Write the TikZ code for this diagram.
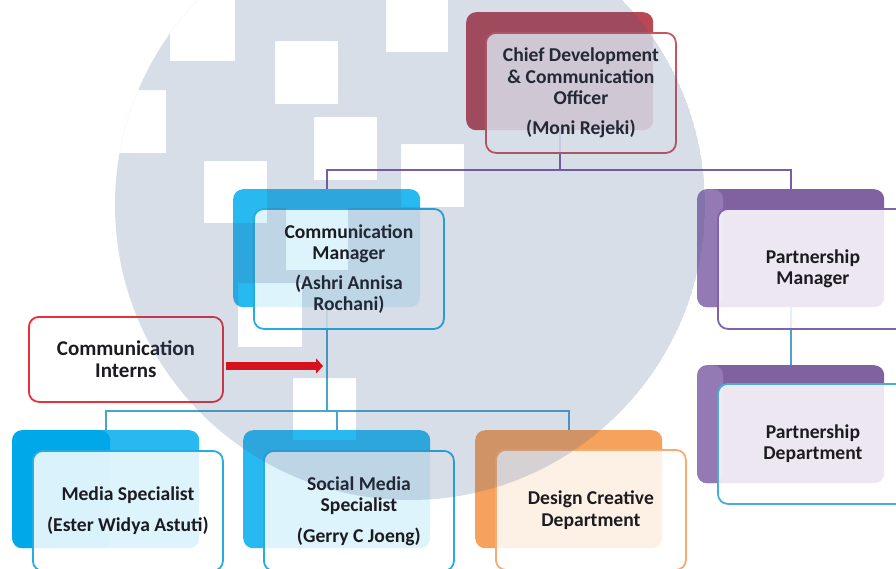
\documentclass[tikz,border=0pt]{standalone}
\usepackage{fontspec}
\setmainfont{Carlito}
\usetikzlibrary{arrows.meta}

\definecolor{chiefred}{RGB}{184,72,82}
\definecolor{chiefedge}{RGB}{198,86,96}
\definecolor{skyback}{RGB}{40,185,240}
\definecolor{skydeep}{RGB}{0,168,234}
\definecolor{skyedge}{RGB}{38,172,228}
\definecolor{plumback}{RGB}{128,98,160}
\definecolor{plumlight}{RGB}{148,122,180}
\definecolor{plumedge}{RGB}{128,100,170}
\definecolor{amberback}{RGB}{246,162,92}
\definecolor{amberedge}{RGB}{246,172,112}
\definecolor{tealline}{RGB}{72,165,205}
\definecolor{tealedge}{RGB}{72,172,212}
\definecolor{plumline}{RGB}{122,92,172}
\definecolor{internedge}{RGB}{232,48,58}
\definecolor{arrowred}{RGB}{214,18,28}
\definecolor{haze}{RGB}{60,90,140}
\definecolor{ink}{RGB}{28,28,32}

\begin{document}
\begin{tikzpicture}[x=1pt,y=-1pt,
  backbox/.style={rounded corners=10pt, fill=#1, draw=none,
    minimum width=187pt, minimum height=118pt, anchor=north west, inner sep=0pt},
  frontbox/.style={rounded corners=10pt, draw=#1, line width=1.8pt,
    fill=white, fill opacity=0.85, text opacity=1,
    minimum width=190pt, minimum height=120pt, anchor=north west, inner sep=0pt,
    text=ink, font=\bfseries\fontsize{19.6}{21.5}\selectfont, align=center},
  plumconn/.style={draw=plumline, line width=1.6pt},
  tealconn/.style={draw=tealline, line width=1.6pt},
  darkleft/.style={path picture={\fill[skydeep] (path picture bounding box.north west)
      rectangle ([xshift=98pt]path picture bounding box.south west);}},
  lightstrip/.style={path picture={\fill[plumlight] (path picture bounding box.north west)
      rectangle ([xshift=26pt]path picture bounding box.south west);}}
]
\useasboundingbox (0,0) rectangle (896,568);
\fill[white] (0,0) rectangle (896,568);

% back plates
\node[backbox=chiefred] (chiefB) at (466,12) {};
\node[backbox=skyback] (commB) at (233,189) {};
\node[backbox=plumback, lightstrip] (pmB) at (697,189) {};
\node[backbox=plumback, lightstrip] (pdB) at (697,365) {};
\node[backbox=skyback, darkleft] (mediaB) at (12,430) {};
\node[backbox=skyback] (socialB) at (243,430) {};
\node[backbox=amberback] (designB) at (475,430) {};

% connectors
\coordinate (topBus) at (0,170);
\coordinate (midBus) at (0,411);
\draw[plumconn] (chiefB.south) -- (chiefB.south |- topBus) -| (commB.north);
\draw[plumconn] (chiefB.south |- topBus) -| (pmB.north);
\draw[tealconn] (commB.south) -- (commB.south |- midBus) -| (mediaB.north);
\draw[tealconn] (commB.south |- midBus) -| (designB.north);
\draw[tealconn] (socialB.north |- midBus) -- (socialB.north);
\draw[tealconn] (pmB.south) -- (pdB.north);

% front cards
\node[frontbox=chiefedge] (chiefF) at ([shift={(19,20)}]chiefB.north west)
  {Chief Development\\\& Communication\\Officer\\[8pt](Moni Rejeki)};
\node[frontbox=skyedge] (commF) at ([shift={(20,19)}]commB.north west)
  {Communication\\Manager\\[8pt](Ashri Annisa\\Rochani)};
\node[frontbox=plumedge] (pmF) at ([shift={(20,19)}]pmB.north west)
  {Partnership\\Manager};
\node[frontbox=tealedge] (pdF) at ([shift={(20,18)}]pdB.north west)
  {Partnership\\Department};
\node[frontbox=skyedge] (mediaF) at ([shift={(20,20)}]mediaB.north west)
  {Media Specialist\\[9pt](Ester Widya Astuti)};
\node[frontbox=skyedge] (socialF) at ([shift={(20,20)}]socialB.north west)
  {Social Media\\Specialist\\[9pt](Gerry C Joeng)};
\node[frontbox=amberedge] (designF) at ([shift={(20,19)}]designB.north west)
  {Design Creative\\Department};
\node[frontbox=internedge, minimum width=194pt, minimum height=85pt,
  font=\bfseries\fontsize{21}{22}\selectfont] (interns) at (28,316)
  {Communication\\Interns};

% watermark disc with square openings
\begin{scope}
  \clip (410,205) circle[radius=295pt];
  \fill[haze, fill opacity=0.2, even odd rule] (410,205) circle[radius=295pt]
    (170,-6) rectangle (235,61)
    (275,41) rectangle (338,104)
    (386,-11) rectangle (448,52)
    (100,90) rectangle (166,153)
    (314,117) rectangle (377,180)
    (401,144) rectangle (464,207)
    (204,161) rectangle (267,223)
    (286,208) rectangle (348,270)
    (238,283) rectangle (302,347)
    (293,378) rectangle (356,440);
\end{scope}

% intern arrow
\coordinate (arrowTip) at (323,366);
\draw[arrowred, line width=8pt, -{Triangle[length=7pt,width=15pt]}, shorten <=2pt]
  (interns.east |- arrowTip) -- (arrowTip);
\end{tikzpicture}
\end{document}
